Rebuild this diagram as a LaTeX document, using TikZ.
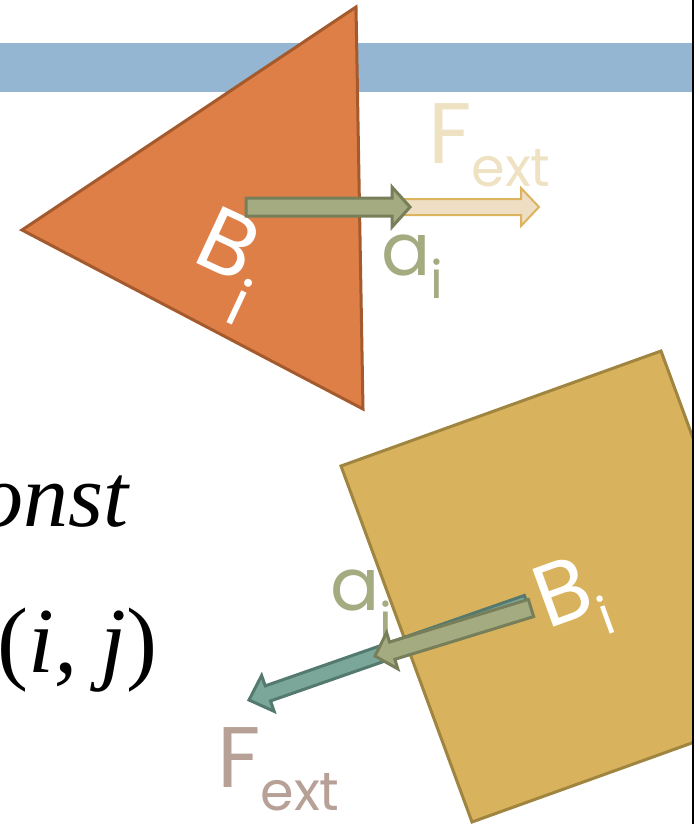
\documentclass[tikz,border=0pt]{standalone}
\usepackage{fontspec}
\usepackage{xcolor}
\usepackage{tikz}
\usetikzlibrary{calc}
\newfontfamily\slidefont{Poppins}
\newfontfamily\eqfont{Liberation Serif}
\definecolor{barblue}{HTML}{94B6D2}
\definecolor{triorange}{HTML}{DE7F48}
\definecolor{triedge}{HTML}{A55A2D}
\definecolor{boxgold}{HTML}{D8B25C}
\definecolor{boxedge}{HTML}{A08540}
\definecolor{accolive}{HTML}{A5AB81}
\definecolor{accedge}{HTML}{777F5A}
\definecolor{forcebeige}{HTML}{EDDEC4}
\definecolor{forcegold}{HTML}{DDB45E}
\definecolor{forceteal}{HTML}{7BA79B}
\definecolor{tealedge}{HTML}{547A70}
\definecolor{labelbeige}{HTML}{EFE2C3}
\definecolor{labeltaupe}{HTML}{B7A096}
\tikzset{
  titlebar/.style={fill=barblue},
  body/.style={line width=3pt, line join=miter},
  tribody/.style={body, draw=triedge, fill=triorange},
  boxbody/.style={body, draw=boxedge, fill=boxgold},
  accarrow/.style={draw=accedge, fill=accolive, line width=3pt, line join=miter},
  beigearrow/.style={draw=forcegold, fill=forcebeige, line width=2pt, line join=miter},
  tealarrow/.style={draw=tealedge, fill=forceteal, line width=3pt, line join=miter},
  lbl/.style={inner sep=0pt, anchor=base west, font=\slidefont},
  eqlbl/.style={inner sep=0pt, anchor=base west, font=\eqfont\itshape\fontsize{90}{90}\selectfont, text=black},
  frame/.style={line width=2pt, draw=black},
}
% lowered, smaller text after a label letter
\newcommand{\lowered}[3]{\raisebox{-#1}{\fontsize{#2}{#2}\selectfont #3}}
% block arrow: style, tail, tip, shaft half width, head half width, head length
\newcommand{\blockarrow}[6]{%
  \coordinate (#2-base) at ($(#3)!#6!(#2)$);
  \draw[#1] ($(#2)!#4!90:(#3)$) -- ($(#2-base)!#4!90:(#3)$) -- ($(#2-base)!#5!90:(#3)$) -- (#3)
    -- ($(#2-base)!#5!-90:(#3)$) -- ($(#2-base)!#4!-90:(#3)$) -- ($(#2)!#4!-90:(#3)$) -- cycle;}

\begin{document}
\begin{tikzpicture}[x=1pt, y=-1pt]
  \useasboundingbox (0,0) rectangle (700,824);
  \begin{scope}
    \clip (0,0) rectangle (692,824);
    % title bar
    \fill[titlebar] (0,43) rectangle (692,92);
    % bodies
    \draw[tribody] (356,7) -- (22,230) -- (363,409) -- cycle;
    \draw[boxbody] (341,466) -- (661,351) -- (792,707) -- (472,822) -- cycle;

    % equation text
    \node[eqlbl] (cst) at (-22,526) {onst};
    \node[eqlbl, font=\eqfont\itshape\fontsize{93}{93}\selectfont] (pair) at (-3,672) {{\upshape(}i, j{\upshape)}};

    % labels, upper body
    \node[lbl, text=labelbeige, font=\slidefont\fontsize{86}{86}\selectfont] (fupper) at (428,163) {F\lowered{24pt}{54}{ext}};
    \node[lbl, text=accolive, font=\slidefont\fontsize{73}{73}\selectfont] (aupper) at (381,275) {a\lowered{23pt}{52}{i}};
    \node[lbl, text=white, rotate=-25, font=\slidefont\fontsize{90}{90}\selectfont] (bupper) at (190,260) {B\lowered{41pt}{64}{i}};

    % labels, lower body
    \node[lbl, text=accolive, font=\slidefont\fontsize{73}{73}\selectfont] (alower) at (330,610) {a\lowered{30pt}{52}{i}};
    \node[lbl, text=labeltaupe, font=\slidefont\fontsize{86}{86}\selectfont] (flower) at (217,787) {F\lowered{23pt}{54}{ext}};
    \node[lbl, text=white, rotate=20, font=\slidefont\fontsize{88}{88}\selectfont] (blower) at (547,630) {B\lowered{26pt}{52}{i}};

    % arrows, upper body
    \coordinate (fu) at (392,207);
    \coordinate (fu tip) at (539,207);
    \coordinate (au) at (246,207);
    \coordinate (au tip) at (410,207);
    \blockarrow{beigearrow}{fu}{fu tip}{8pt}{19pt}{18pt}
    \blockarrow{accarrow}{au}{au tip}{9pt}{20pt}{18pt}

    % arrows, lower body
    \coordinate (fl) at (527,603);
    \coordinate (fl tip) at (249,700);
    \coordinate (al) at (531,608);
    \coordinate (al tip) at (375,656);
    \blockarrow{tealarrow}{fl}{fl tip}{8pt}{19pt}{20pt}
    \blockarrow{accarrow}{al}{al tip}{9pt}{19pt}{18pt}
  \end{scope}
  \draw[frame] (692.5,0) -- (692.5,824);
\end{tikzpicture}
\end{document}
